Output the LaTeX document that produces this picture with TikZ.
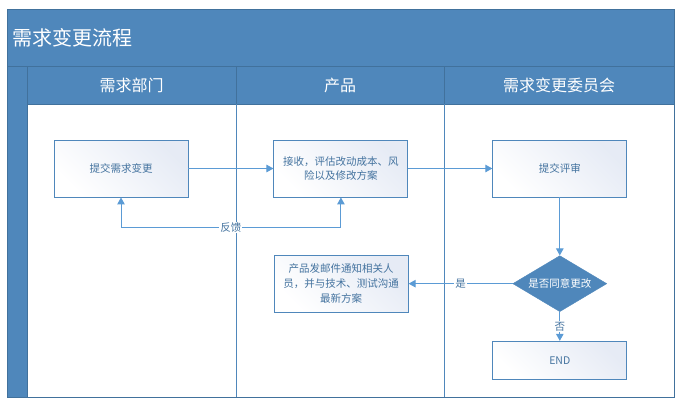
\documentclass[tikz,border=0pt]{standalone}
\usepackage{fontspec}
\setmainfont{Noto Sans CJK SC}
\usetikzlibrary{arrows.meta,positioning,shapes.geometric}
\definecolor{laneblue}{HTML}{4F87BB}
\definecolor{laneedge}{HTML}{41719C}
\definecolor{flowline}{HTML}{5B9BD5}
\definecolor{boxtext}{HTML}{44739F}
\definecolor{boxshade}{HTML}{E6EBF5}

\begin{document}
\begin{tikzpicture}[x=1pt,y=-1pt,
  node distance=58pt and 85pt,
  >={Triangle[length=7pt,width=7.5pt]},
  box/.style={draw=laneblue,line width=0.9pt,minimum width=134pt,minimum height=57pt,
              inner sep=0pt,align=center,text=boxtext,
              font=\fontsize{10.5}{14.5}\selectfont,
              top color=boxshade,bottom color=white,shading angle=-45},
  decide/.style={diamond,draw=laneblue,fill=laneblue,minimum width=94pt,minimum height=56pt,
                 aspect=1.68,inner sep=0pt,text=white,font=\fontsize{10.5}{13}\selectfont},
  lanehead/.style={text=white,font=\fontsize{16}{19}\selectfont,inner sep=0pt},
  arrow/.style={->,draw=flowline,line width=1pt},
  tag/.style={fill=white,inner sep=1pt,text=boxtext,font=\fontsize{10.5}{13}\selectfont}
]
  \useasboundingbox (0,0) rectangle (684,407);

  % swimlane frame
  \fill[laneblue] (7,9) rectangle (674,104);
  \fill[laneblue] (7,104) rectangle (27,397);
  \draw[laneedge,line width=1pt] (7,66) -- (674,66) (27,66) -- (27,397) (27,104) -- (674,104);
  \draw[laneedge,line width=1pt] (236,66) -- (236,104) (444,66) -- (444,104);
  \draw[laneblue,line width=1pt] (236,104) -- (236,397) (444,104) -- (444,397);
  \draw[laneedge,line width=1pt] (7,9) rectangle (674,397);

  \node[anchor=west,text=white,font=\fontsize{20}{24}\selectfont,inner sep=0pt] (title) at (12,38) {需求变更流程};
  \node[lanehead] (deptlane) at (131.5,85) {需求部门};
  \node[lanehead] (prodlane) at (340,85) {产品};
  \node[lanehead] (boardlane) at (559,85) {需求变更委员会};

  \node[box] (submit) at (121,168.5) {提交需求变更};
  \node[box,right=of submit] (assess) {接收，评估改动成本、风\\险以及修改方案};
  \node[box,right=84pt of assess] (review) {提交评审};
  \node[decide,below=of review] (agree) {是否同意更改};
  \node[box,left=104pt of agree,font=\fontsize{10.5}{15}\selectfont] (notify) {产品发邮件通知相关人\\员，并与技术、测试沟通\\最新方案};
  \node[box,below=29pt of agree,minimum height=38pt] (finish) {END};

  \draw[arrow] (submit) -- (assess);
  \draw[arrow] (assess) -- (review);
  \draw[arrow] (review) -- (agree);
  \draw[arrow] (agree) -- node[tag] {是} (notify);
  \draw[arrow] (agree) -- node[tag] {否} (finish);
  \draw[arrow,<->] (submit.south) -- ++(0,30) -| node[tag,pos=0.25] {反馈} (assess.south);
\end{tikzpicture}
\end{document}
